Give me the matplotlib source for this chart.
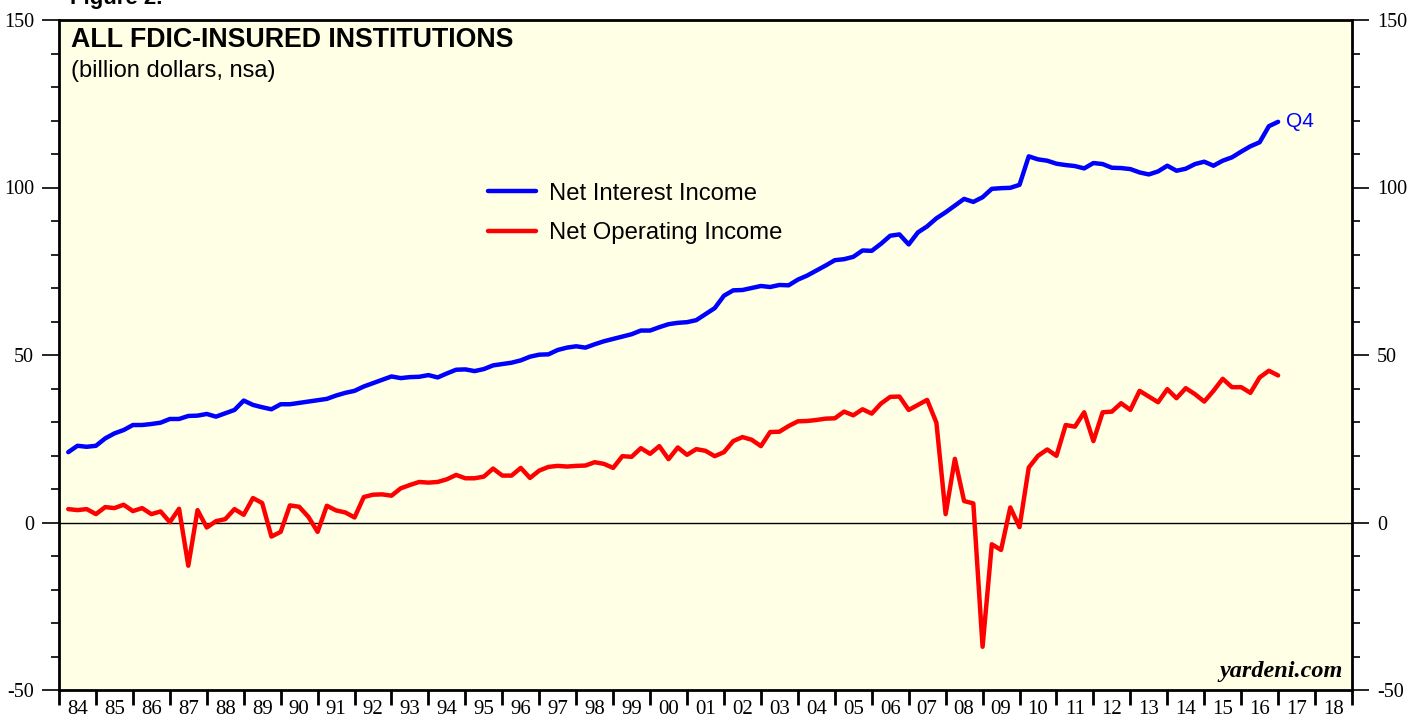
import numpy as np
import pandas as pd
import matplotlib
matplotlib.use('Agg')
from matplotlib import pyplot as plt
from matplotlib.ticker import FixedLocator, MultipleLocator, NullFormatter, FixedFormatter

# quarterly data, 1984Q1 .. 2016Q4 (billion dollars, nsa)
quarters = pd.period_range('1984Q1', '2016Q4', freq='Q')

net_interest = [
    21.0, 22.9, 22.6, 22.9, 25.1, 26.6, 27.6, 29.1, 29.1, 29.4, 29.8, 30.9, 30.9, 31.8,
    31.9, 32.4, 31.6, 32.6, 33.6, 36.4, 35.1, 34.4, 33.8, 35.3, 35.3, 35.7, 36.1, 36.5,
    36.9, 37.9, 38.7, 39.3, 40.6, 41.6, 42.6, 43.6, 43.1, 43.4, 43.5, 44.0, 43.3, 44.5,
    45.6, 45.7, 45.2, 45.8, 46.9, 47.3, 47.7, 48.4, 49.5, 50.1, 50.2, 51.5, 52.2, 52.6,
    52.2, 53.2, 54.1, 54.8, 55.5, 56.2, 57.3, 57.3, 58.3, 59.2, 59.6, 59.8, 60.4, 62.2,
    64.0, 67.7, 69.3, 69.4, 70.0, 70.6, 70.3, 70.9, 70.8, 72.5, 73.7, 75.2, 76.7, 78.3,
    78.6, 79.3, 81.2, 81.1, 83.2, 85.6, 86.0, 83.0, 86.6, 88.4, 90.8, 92.6, 94.6, 96.6,
    95.7, 97.1, 99.6, 99.8, 99.9, 100.8, 109.3, 108.4, 108.0, 107.1, 106.7, 106.4, 105.7, 107.3,
    107.0, 105.9, 105.8, 105.5, 104.5, 103.9, 104.8, 106.5, 105.0, 105.6, 107.0, 107.7, 106.5, 108.0,
    109.0, 110.7, 112.3, 113.5, 118.3, 119.6,
]

net_operating = [
    4.0, 3.7, 4.0, 2.5, 4.6, 4.3, 5.3, 3.4, 4.3, 2.5, 3.3, 0.1, 4.1, -12.9,
    3.7, -1.5, 0.4, 1.0, 4.0, 2.3, 7.3, 5.8, -4.2, -2.8, 5.1, 4.7, 1.7, -2.8,
    5.0, 3.6, 3.0, 1.5, 7.6, 8.3, 8.4, 8.0, 10.2, 11.2, 12.1, 11.9, 12.1, 12.9,
    14.2, 13.2, 13.2, 13.7, 16.1, 14.0, 14.0, 16.3, 13.3, 15.5, 16.6, 16.9, 16.7, 16.9,
    17.0, 18.0, 17.5, 16.3, 19.8, 19.6, 22.2, 20.5, 22.8, 18.9, 22.4, 20.2, 21.9, 21.4,
    19.8, 21.0, 24.3, 25.5, 24.7, 22.8, 27.0, 27.1, 28.8, 30.2, 30.3, 30.6, 31.0, 31.1,
    33.1, 32.0, 33.8, 32.5, 35.5, 37.5, 37.6, 33.6, 35.1, 36.6, 29.8, 2.5, 19.0, 6.4,
    5.7, -37.1, -6.5, -8.2, 4.5, -1.4, 16.4, 19.9, 21.8, 19.9, 29.1, 28.6, 32.9, 24.3,
    32.9, 33.1, 35.6, 33.6, 39.3, 37.6, 35.9, 39.8, 37.1, 40.1, 38.3, 36.1, 39.3, 42.9,
    40.4, 40.4, 38.7, 43.3, 45.3, 43.9,
]

year_ticks = list(range(1984, 2020))
year_labels = ['%02d' % (y % 100) for y in range(1984, 2019)]

# each quarter plotted at its end
x = np.array([p.year + p.quarter / 4.0 for p in quarters])

BG = '#ffffe6'
SERIF = 'Liberation Serif'
SANS = 'Liberation Sans'
plt.rcParams['axes.unicode_minus'] = False

fig = plt.figure(figsize=(14.22, 7.19), dpi=100)
ax = fig.add_axes([59 / 1422, 1 - 690 / 719, 1293 / 1422, 670 / 719])
ax.set_facecolor(BG)

ax.axhline(0, color='black', linewidth=1.0, zorder=1)
l1, = ax.plot(x, net_interest, color='#0000ff', linewidth=3.2, solid_joinstyle='round',
              solid_capstyle='round', label='Net Interest Income', zorder=3)
l2, = ax.plot(x, net_operating, color='#ff0000', linewidth=3.2, solid_joinstyle='round',
              solid_capstyle='round', label='Net Operating Income', zorder=3)

ax.set_xlim(1984, 2019)
ax.set_ylim(-50, 150)

for s in ax.spines.values():
    s.set_linewidth(2.0)

# y axis, both sides
ax.yaxis.set_major_locator(MultipleLocator(50))
ax.yaxis.set_minor_locator(MultipleLocator(10))
ax.tick_params(axis='y', which='both', left=True, right=True, labelleft=True, labelright=True,
               direction='out', width=1.2)
ax.tick_params(axis='y', which='major', length=12, pad=6, labelsize=14.5)
ax.tick_params(axis='y', which='minor', length=6)
for lab in ax.get_yticklabels():
    lab.set_fontfamily(SERIF)

# x axis: ticks at year boundaries, labels centred in each year
ax.xaxis.set_major_locator(FixedLocator(year_ticks))
ax.xaxis.set_major_formatter(NullFormatter())
ax.xaxis.set_minor_locator(FixedLocator([y + 0.5 for y in range(1984, 2019)]))
ax.xaxis.set_minor_formatter(FixedFormatter(year_labels))
ax.tick_params(axis='x', which='major', direction='out', length=11, width=2.0)
ax.tick_params(axis='x', which='minor', length=0, pad=7, labelsize=15)
for lab in ax.get_xticklabels(minor=True):
    lab.set_fontfamily(SERIF)

ax.text(0.009, 0.99, 'ALL FDIC-INSURED INSTITUTIONS', transform=ax.transAxes, ha='left', va='top',
        fontsize=19.3, fontweight='bold', family=SANS)
ax.text(0.009, 0.94, '(billion dollars, nsa)', transform=ax.transAxes, ha='left', va='top',
        fontsize=17, family=SANS)

leg = ax.legend(handles=[l1, l2], loc='upper left', bbox_to_anchor=(0.332, 0.757), frameon=False,
                prop={'family': SANS, 'size': 17.2}, handlelength=2.0, handletextpad=0.55,
                labelspacing=0.72, borderpad=0, borderaxespad=0)

ax.annotate('Q4', xy=(x[-1], net_interest[-1]), xytext=(6, 0), textcoords='offset points',
            color='#0000ff', fontsize=15, family=SANS, va='center', ha='left')

ax.text(0.993, 0.012, 'yardeni.com', transform=ax.transAxes, ha='right', va='bottom',
        fontsize=17.5, fontweight='bold', style='italic', family=SERIF)

fig.text(70 / 1422, 1 - 4 / 719, 'Figure 2.', ha='left', va='baseline', fontsize=16,
         fontweight='bold', family=SANS)

fig.savefig('out.png', dpi=100, facecolor='white')
